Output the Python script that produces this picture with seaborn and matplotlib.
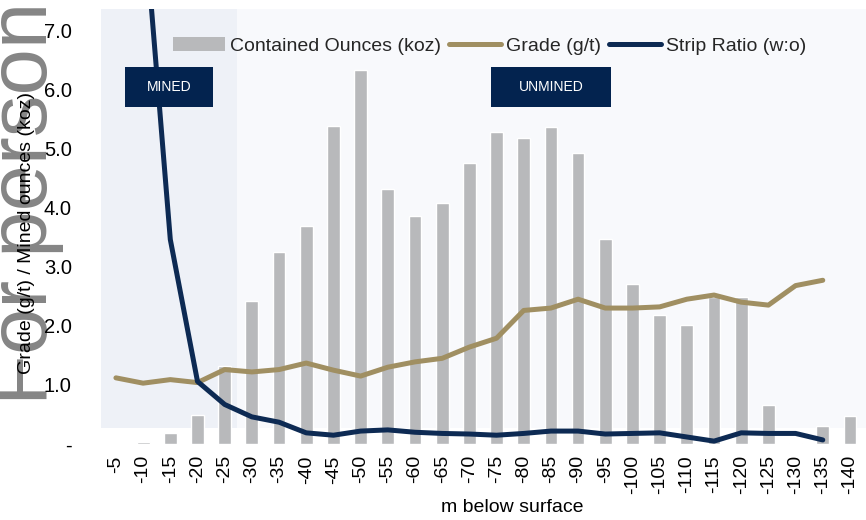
import numpy as np
import matplotlib
matplotlib.use("Agg")
import matplotlib.pyplot as plt
from matplotlib.patches import Patch, Rectangle
from matplotlib.lines import Line2D
import seaborn as sns

# ---- data ----
depths = ["-5", "-10", "-15", "-20", "-25", "-30", "-35", "-40", "-45", "-50",
          "-55", "-60", "-65", "-70", "-75", "-80", "-85", "-90", "-95", "-100",
          "-105", "-110", "-115", "-120", "-125", "-130", "-135", "-140"]
contained_oz = [0.0, 0.03, 0.19, 0.49, 1.32, 2.42, 3.24, 3.69, 5.38, 6.32,
                4.32, 3.85, 4.07, 4.76, 5.27, 5.17, 5.37, 4.92, 3.46, 2.71,
                2.19, 2.02, 2.48, 2.49, 0.66, 0.02, 0.31, 0.48]
grade = [1.12, 1.03, 1.09, 1.04, 1.26, 1.22, 1.26, 1.37, 1.25, 1.15,
         1.30, 1.39, 1.45, 1.64, 1.79, 2.26, 2.30, 2.45, 2.30, 2.30,
         2.32, 2.45, 2.52, 2.40, 2.35, 2.68, 2.77, np.nan]
strip_ratio = [np.nan, 9.1, 3.46, 1.06, 0.67, 0.46, 0.37, 0.19, 0.15, 0.22,
               0.24, 0.20, 0.18, 0.17, 0.15, 0.18, 0.22, 0.22, 0.17, 0.18,
               0.19, 0.12, 0.05, 0.19, 0.18, 0.18, 0.07, np.nan]
ytick_values = [0, 1, 2, 3, 4, 5, 6, 7]
ytick_labels = ["-", "1.0", "2.0", "3.0", "4.0", "5.0", "6.0", "7.0"]
legend_labels = ["Contained Ounces (koz)", "Grade (g/t)", "Strip Ratio (w:o)"]

# ---- style ----
sns.set_theme(style="white")
plt.rcParams["font.family"] = ["Liberation Sans Narrow", "Liberation Sans", "DejaVu Sans"]

bar_color = "#B8B9BB"
grade_color = "#A08F62"
strip_color = "#0D2A53"
box_color = "#03234F"
mined_bg = "#EEF1F7"
unmined_bg = "#F8F9FC"

fig = plt.figure(figsize=(8.66, 5.2), dpi=100)
ax = fig.add_axes([0.1166, 0.146, 0.8834, 0.837])
ax.set_facecolor("white")

# shaded regions
ax.add_patch(Rectangle((0, 0.037), 0.178, 0.963, transform=ax.transAxes,
                       facecolor=mined_bg, edgecolor="none", zorder=0))
ax.add_patch(Rectangle((0.178, 0.037), 0.822, 0.963, transform=ax.transAxes,
                       facecolor=unmined_bg, edgecolor="none", zorder=0))

pos = np.arange(len(depths))
sns.barplot(x=depths, y=contained_oz, order=depths, color=bar_color,
            saturation=1, width=0.47, ax=ax, zorder=2)
sns.lineplot(x=pos, y=grade, color=grade_color, linewidth=3.6, ax=ax,
             zorder=3, solid_capstyle="round")
sns.lineplot(x=pos, y=strip_ratio, color=strip_color, linewidth=3.6, ax=ax,
             zorder=4, solid_capstyle="round")

ax.set_xlim(-0.55, 27.59)
ax.set_ylim(0, 7.36)
ax.set_yticks(ytick_values)
ax.set_yticklabels(ytick_labels)
ax.set_xticks(pos)
ax.set_xticklabels(depths, rotation=90, va="top")
ax.tick_params(axis="y", length=0, pad=21, labelsize=14.5, colors="black")
ax.tick_params(axis="x", length=0, pad=8, labelsize=14, colors="black")
for s in ax.spines.values():
    s.set_visible(False)

ax.set_xlabel("m below surface", fontsize=14, color="black")
ax.xaxis.set_label_coords(0.537, -0.145)
ax.xaxis.label.set_va("center")
ax.set_ylabel("Grade (g/t) / Mined ounces (koz)", fontsize=14, color="black")
ax.yaxis.set_label_coords(-0.098, 0.485)
ax.yaxis.label.set_va("center")

# MINED / UNMINED boxes
ax.add_patch(Rectangle((0.0314, 0.775), 0.115, 0.092, transform=ax.transAxes,
                       facecolor=box_color, edgecolor="none", zorder=5))
ax.text(0.0314 + 0.115 / 2, 0.775 + 0.046, "MINED", transform=ax.transAxes,
        ha="center", va="center", color="white", fontsize=10, zorder=6)
ax.add_patch(Rectangle((0.5098, 0.775), 0.157, 0.092, transform=ax.transAxes,
                       facecolor=box_color, edgecolor="none", zorder=5))
ax.text(0.5098 + 0.157 / 2, 0.775 + 0.046, "UNMINED", transform=ax.transAxes,
        ha="center", va="center", color="white", fontsize=10, zorder=6)

handles = [Patch(facecolor=bar_color, edgecolor="none"),
           Line2D([], [], color=grade_color, lw=3.6, solid_capstyle="round"),
           Line2D([], [], color=strip_color, lw=3.6, solid_capstyle="round")]
leg = ax.legend(handles, legend_labels, ncol=3, loc="center",
                bbox_to_anchor=(0.508, 0.915), frameon=False, fontsize=14,
                handlelength=2.7, handletextpad=0.25, columnspacing=0.4)
leg.set_zorder(7)

# watermark
fig.text(0.054, 0.221, "For personal use only", rotation=90,
         rotation_mode="anchor", ha="left", va="baseline", fontsize=60,
         color="#858585", family=["Liberation Sans", "DejaVu Sans"], zorder=-1)

fig.savefig("out.png", dpi=100)
